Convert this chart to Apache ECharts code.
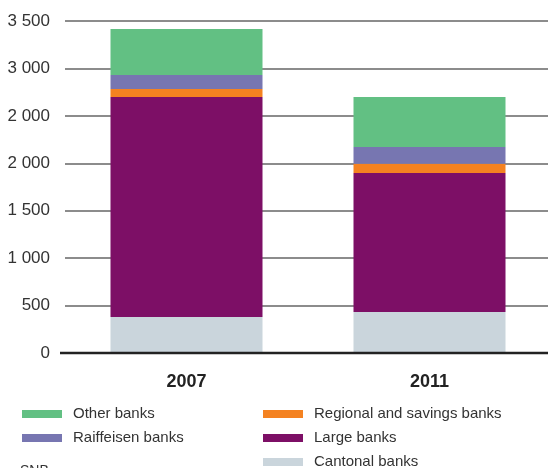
<!DOCTYPE html>
<html>
<head>
    <meta charset="utf-8">
    <title>Banks</title>
    <style type="text/css">
        html, body { margin: 0; padding: 0; background: #fff; overflow: hidden; }
        #page { width: 560px; height: 468px; }
    </style>
</head>
<body>
<div id="page"></div>
<script src="https://cdn.jsdelivr.net/npm/echarts@6/dist/echarts.min.js"></script>
<script>
    var years = ['2007', '2011'];
    var cantonal = [379, 432];
    var large = [2320, 1465];
    var regional = [84, 98];
    var raiffeisen = [148, 176];
    var other = [484, 527];
    var yTickLabels = ['0', '500', '1 000', '1 500', '2 000', '2 000', '3 000', '3 500'];

    (function () {
        var font = '"Liberation Sans Narrow", "Liberation Sans", sans-serif';
        var myChart = echarts.init(document.getElementById('page'));

        function bar(name, data, color) {
            return {
                name: name,
                type: 'bar',
                stack: 'all',
                barWidth: 152,
                data: data,
                itemStyle: {color: color},
                emphasis: {disabled: true}
            };
        }

        var legendText = {fontFamily: font, fontSize: 15, lineHeight: 16, color: '#333', padding: [0, 0, 0, 6]};

        function legend(left, names) {
            return {
                orient: 'horizontal',
                left: left,
                top: 406,
                width: 230,
                itemWidth: 40,
                itemHeight: 8,
                itemGap: 8,
                padding: 0,
                icon: 'rect',
                selectedMode: false,
                textStyle: legendText,
                data: names
            };
        }

        var option = {
            animation: false,
            // chart box is a little wider than the window so the grid runs off the right edge
            grid: {left: 65, right: 9, top: 21, bottom: 115},
            xAxis: {
                type: 'category',
                data: years,
                axisTick: {show: false},
                axisLine: {show: false},
                axisLabel: {
                    fontFamily: 'Liberation Sans, sans-serif',
                    fontWeight: 'bold',
                    fontSize: 18,
                    color: '#222',
                    margin: 20
                }
            },
            yAxis: {
                type: 'value',
                min: 0,
                max: 3500,
                interval: 500,
                axisLine: {show: false},
                axisTick: {show: false},
                splitLine: {lineStyle: {color: '#666', width: 1.5}},
                axisLabel: {
                    fontFamily: font,
                    fontSize: 17,
                    color: '#333',
                    margin: 15,
                    formatter: function (v) {
                        return yTickLabels[Math.round(v / 500)];
                    }
                }
            },
            legend: [
                legend(22, ['Other banks', 'Raiffeisen banks']),
                legend(263, ['Regional and savings banks', 'Large banks', 'Cantonal banks'])
            ],
            graphic: [{
                type: 'line',
                shape: {x1: 60, y1: 353, x2: 560, y2: 353},
                style: {stroke: '#222', lineWidth: 2.5},
                z: 10
            }, {
                type: 'text',
                left: 20,
                top: 464,
                style: {text: 'SNB', fontFamily: font, fontSize: 14, fill: '#333'}
            }],
            series: [
                bar('Cantonal banks', cantonal, '#cad5dc'),
                bar('Large banks', large, '#7d0f66'),
                bar('Regional and savings banks', regional, '#f48221'),
                bar('Raiffeisen banks', raiffeisen, '#7776b1'),
                bar('Other banks', other, '#62c083')
            ]
        };
        myChart.setOption(option);
    })();
</script>
</body>
</html>
